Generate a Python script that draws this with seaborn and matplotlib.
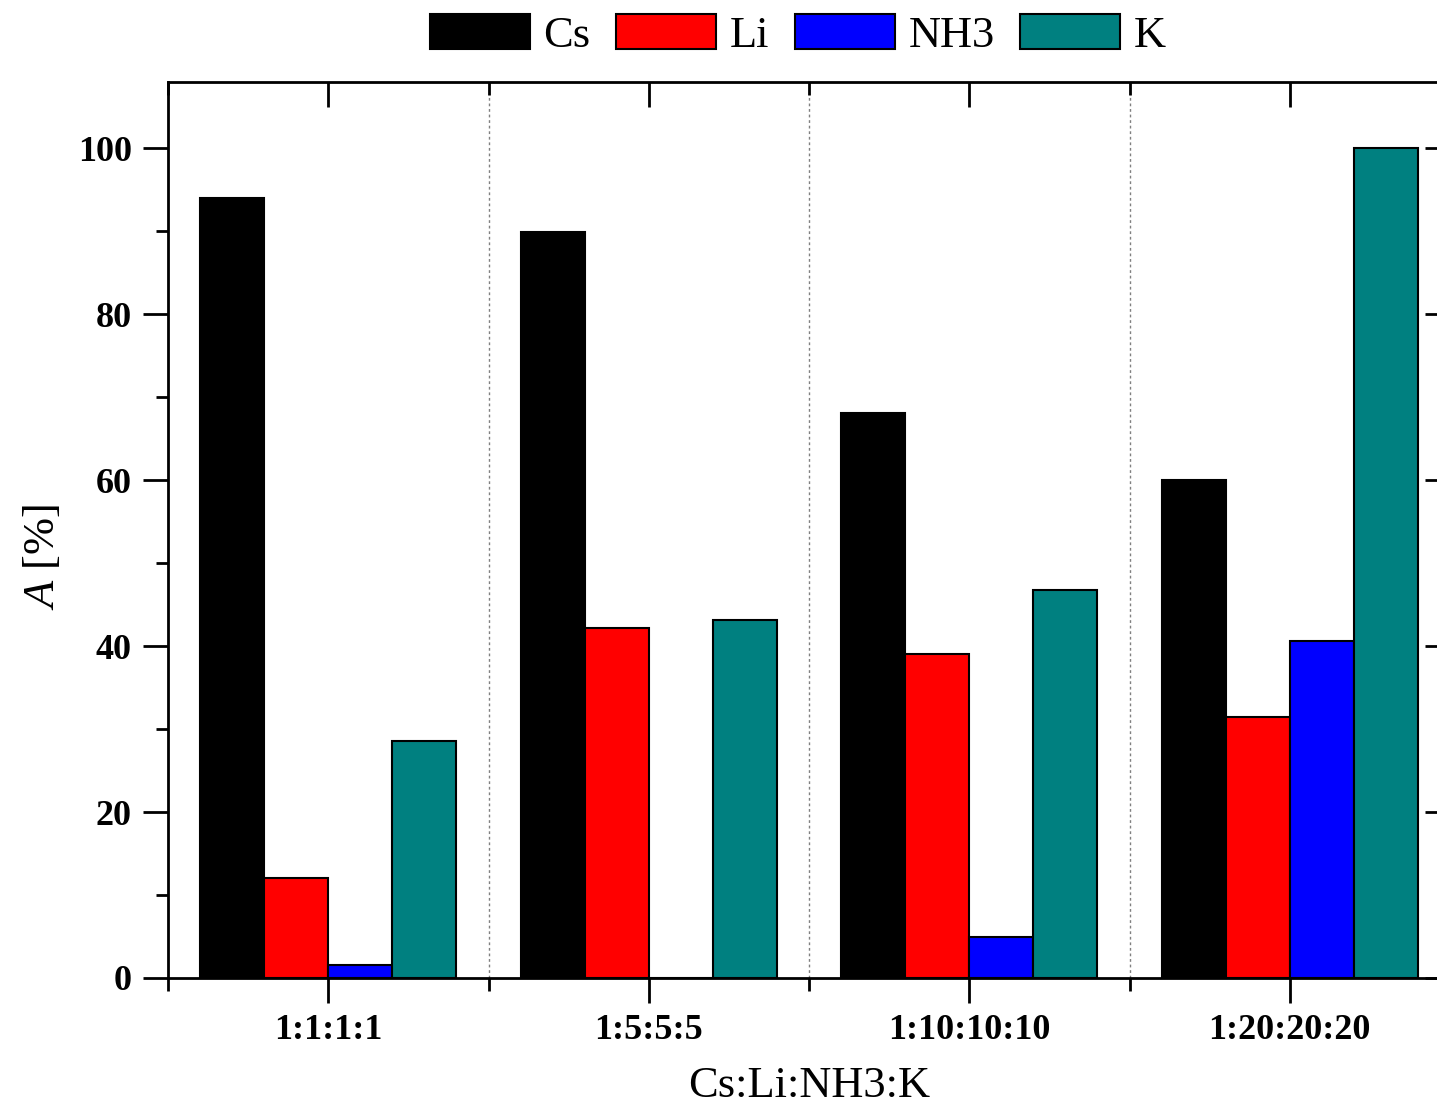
import pandas as pd
import numpy as np
import matplotlib.pyplot as plt
import seaborn as sns
from matplotlib.ticker import MultipleLocator, FixedLocator

# data
ratios = ['1:1:1:1', '1:5:5:5', '1:10:10:10', '1:20:20:20']
species = ['Cs', 'Li', 'NH3', 'K']
cs = [94.0, 89.9, 68.1, 60.0]
li = [12.1, 42.2, 39.0, 31.5]
nh3 = [1.6, 0.0, 4.9, 40.6]
k = [28.6, 43.1, 46.8, 100.0]
colors = {'Cs': '#000000', 'Li': '#ff0000', 'NH3': '#0000ff', 'K': '#008080'}

df = pd.DataFrame({'ratio': ratios, 'Cs': cs, 'Li': li, 'NH3': nh3, 'K': k})
long_df = df.melt(id_vars='ratio', var_name='species', value_name='A')

sns.set_style('ticks')
plt.rcParams['font.family'] = ['Liberation Serif', 'DejaVu Serif']
plt.rcParams['mathtext.fontset'] = 'custom'
plt.rcParams['mathtext.it'] = 'Liberation Serif:italic'
plt.rcParams['mathtext.rm'] = 'Liberation Serif'
plt.rcParams['text.color'] = 'black'
plt.rcParams['axes.labelcolor'] = 'black'
plt.rcParams['xtick.color'] = 'black'
plt.rcParams['ytick.color'] = 'black'

fig = plt.figure(figsize=(14.37, 11.07), dpi=100)
ax = fig.add_axes([168 / 1437, 129 / 1107, 1282 / 1437, 896 / 1107])

sns.barplot(data=long_df, x='ratio', y='A', hue='species', hue_order=species,
            palette=colors, width=0.8, edgecolor='black', linewidth=1.5,
            saturation=1, ax=ax)

# dotted separators between groups
for xb in [0.5, 1.5, 2.5]:
    ax.axvline(xb, color='gray', linestyle=(0, (2, 2)), linewidth=1, zorder=0)

ax.set_xlim(-0.5, 3.5)
ax.set_ylim(0, 108)

for side in ['left', 'right', 'top', 'bottom']:
    ax.spines[side].set_linewidth(2)
    ax.spines[side].set_color('black')

ax.yaxis.set_major_locator(MultipleLocator(20))
ax.yaxis.set_minor_locator(MultipleLocator(10))
ax.xaxis.set_minor_locator(FixedLocator([-0.5, 0.5, 1.5, 2.5]))

ax.tick_params(axis='both', which='major', direction='out', length=18, width=2,
               labelsize=26, pad=8, colors='black')
ax.tick_params(axis='both', which='minor', direction='out', length=9, width=2,
               colors='black')
ax.tick_params(axis='x', which='both', top=True)
ax.tick_params(axis='y', which='major', right=True)
ax.tick_params(axis='y', which='minor', right=False)
# inward ticks on top and right
for t in ax.xaxis.get_major_ticks() + ax.xaxis.get_minor_ticks():
    t.tick2line.set_marker(3)
for t in ax.yaxis.get_major_ticks():
    t.tick2line.set_marker(0)

for lab in ax.get_xticklabels() + ax.get_yticklabels():
    lab.set_fontweight('bold')

ax.set_xlabel('Cs:Li:NH3:K', fontsize=32)
ax.set_ylabel('$A$ [%]', fontsize=32)
ax.xaxis.set_label_coords(0.5, -0.098)
ax.yaxis.set_label_coords(-0.082, 0.47)

handles, labels = ax.get_legend_handles_labels()
ax.get_legend().remove()
fig.legend(handles, labels, loc='center', bbox_to_anchor=(798 / 1437, 1 - 35 / 1107),
           ncol=4, frameon=False, fontsize=32, handlelength=2.25, handleheight=0.82,
           handletextpad=0.3, columnspacing=0.58, borderaxespad=0)

fig.savefig('out.png', dpi=100)
